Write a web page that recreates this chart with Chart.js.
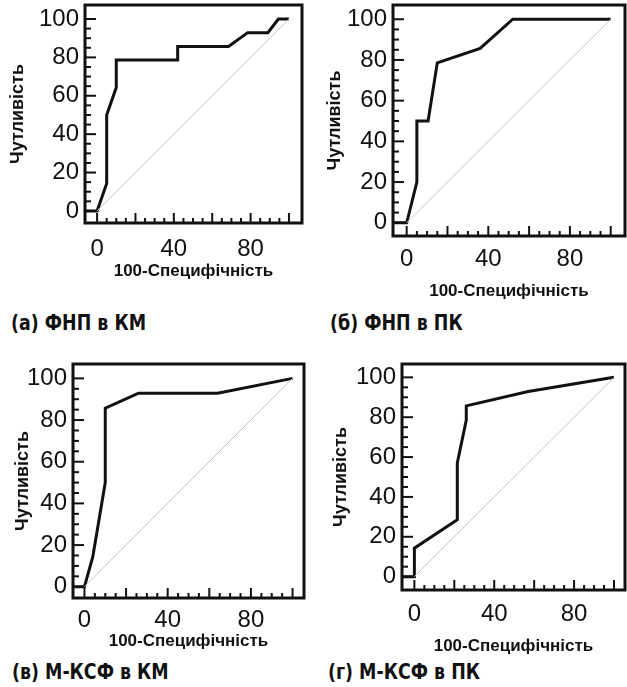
<!DOCTYPE html>
<html>
<head>
<meta charset="utf-8">
<script src="https://cdn.jsdelivr.net/npm/chart.js@4.4.1/dist/chart.umd.min.js"></script>
<style>
  html, body { margin: 0; padding: 0; background: #fff; }
  #wrap { position: relative; width: 627px; height: 687px; overflow: hidden; background: #fff; }
  canvas { position: absolute; }
  .cap { position: absolute; font-family: "DejaVu Sans", sans-serif;
         font-weight: bold; font-size: 21px; color: #111; white-space: nowrap; line-height: 1;
         transform: scaleX(0.83); transform-origin: left top; }
</style>
</head>
<body>
<div id="wrap">
  <canvas id="ca" width="310" height="292" style="left:0;top:0"></canvas>
  <canvas id="cb" width="317" height="305" style="left:310px;top:0"></canvas>
  <canvas id="cc" width="310" height="310" style="left:0;top:350px"></canvas>
  <canvas id="cd" width="317" height="310" style="left:310px;top:350px"></canvas>
  <div class="cap" style="left:11px;top:313px">(а) ФНП в КМ</div>
  <div class="cap" style="left:330px;top:313px">(б) ФНП в ПК</div>
  <div class="cap" style="left:12px;top:662px">(в) М-КСФ в КМ</div>
  <div class="cap" style="left:328px;top:662px">(г) М-КСФ в ПК</div>
</div>
<script>
// ---- data ----
const xTickLabels = [0, 40, 80];
const yTickLabels = [0, 20, 40, 60, 80, 100];
const xTitle = '100-Специфічність';
const yTitle = 'Чутливість';
const diagX = [0, 100];
const diagY = [0, 100];

// (а) ФНП в КМ
const rocA_x = [-6.3, 0, 5, 5, 10, 10, 42, 42, 68.5, 78.5, 89, 94.5, 100];
const rocA_y = [0, 0, 14.3, 50, 64.3, 78.6, 78.6, 85.7, 85.7, 92.9, 92.9, 100, 100];
// (б) ФНП в ПК
const rocB_x = [-6.7, 0, 5, 5, 10.5, 15, 36, 52, 100];
const rocB_y = [0, 0, 20, 50, 50, 78.6, 85.7, 100, 100];
// (в) М-КСФ в КМ
const rocC_x = [-5.5, 0, 4, 10, 10, 26, 64, 100];
const rocC_y = [0, 0, 14.3, 50, 85.7, 92.9, 92.9, 100];
// (г) М-КСФ в ПК
const rocD_x = [-6.2, 0, 0, 21.5, 21.5, 26, 26, 57, 100];
const rocD_y = [0, 0, 14.3, 28.6, 57.1, 78.6, 85.7, 92.9, 100];

const zip = (xs, ys) => xs.map((x, i) => ({ x: x, y: ys[i] }));

// box + inward ticks drawn from the library's scales
const frame = {
  id: 'frame',
  afterDatasetsDraw(chart) {
    const { ctx, chartArea: a, scales } = chart;
    const xs = scales.x, ys = scales.y;
    ctx.save();
    ctx.strokeStyle = '#111';
    ctx.lineCap = 'butt';
    ctx.lineWidth = 2;
    for (let v = 0; v <= 100; v += 5) {
      const major = v % 20 === 0;
      const px = xs.getPixelForValue(v);
      ctx.beginPath();
      ctx.moveTo(px, a.bottom);
      ctx.lineTo(px, a.bottom - (major ? 10 : 5));
      ctx.stroke();
      const py = ys.getPixelForValue(v);
      ctx.beginPath();
      ctx.moveTo(a.left, py);
      ctx.lineTo(a.left + (major ? 11 : 6), py);
      ctx.stroke();
    }
    ctx.lineWidth = 3;
    ctx.strokeRect(a.left, a.top, a.right - a.left, a.bottom - a.top);
    ctx.restore();
  }
};

function makeChart(id, rx, ry, cfg) {
  const tickFont = { family: '"Liberation Sans", Arial, sans-serif', size: 24 };
  const xTitleFont = { family: '"Liberation Sans", Arial, sans-serif', size: 17, weight: 'bold' };
  const yTitleFont = { family: '"Liberation Sans", Arial, sans-serif', size: 18, weight: 'bold' };
  return new Chart(document.getElementById(id), {
    type: 'scatter',
    data: {
      datasets: [
        { data: zip(diagX, diagY), showLine: true, borderColor: '#c8c8c8', borderWidth: 1,
          pointRadius: 0, tension: 0 },
        { data: zip(rx, ry), showLine: true, borderColor: '#111', borderWidth: 3,
          pointRadius: 0, tension: 0, borderJoinStyle: 'miter' }
      ]
    },
    options: {
      responsive: false,
      animation: false,
      devicePixelRatio: 1,
      layout: { padding: { top: cfg.padTop, right: cfg.padRight, left: 0, bottom: 0 } },
      plugins: { legend: { display: false }, tooltip: { enabled: false } },
      scales: {
        x: {
          type: 'linear', min: cfg.xmin, max: cfg.xmax,
          grid: { display: false, drawTicks: false },
          border: { display: false },
          ticks: { font: tickFont, color: '#111', padding: cfg.xTickPad, maxRotation: 0 },
          afterBuildTicks: s => { s.ticks = xTickLabels.map(v => ({ value: v })); },
          afterFit: s => { s.height = cfg.xH; s.paddingLeft = 0; s.paddingRight = 0; s.paddingTop = 0; s.paddingBottom = 0; },
          title: { display: true, text: xTitle, font: xTitleFont, color: '#111',
                   padding: { top: 0, bottom: cfg.xTitlePad } }
        },
        y: {
          type: 'linear', min: cfg.ymin, max: cfg.ymax,
          grid: { display: false, drawTicks: false },
          border: { display: false },
          ticks: { font: tickFont, color: '#111', padding: 6 },
          afterBuildTicks: s => { s.ticks = yTickLabels.map(v => ({ value: v })); },
          afterFit: s => { s.width = cfg.yW; s.paddingLeft = 0; s.paddingRight = 0; s.paddingTop = 0; s.paddingBottom = 0; },
          title: { display: true, text: yTitle, font: yTitleFont, color: '#111',
                   padding: { top: cfg.yTitlePad, bottom: 0 } }
        }
      }
    },
    plugins: [frame]
  });
}

makeChart('ca', rocA_x, rocA_y, { xmin: -6.3, xmax: 106.8, ymin: -6.3, ymax: 107.3,
  padTop: 5, padRight: 8, yW: 85, xH: 292 - 223, xTickPad: 12, xTitlePad: 10, yTitlePad: 7 });
makeChart('cb', rocB_x, rocB_y, { xmin: -6.7, xmax: 107, ymin: -6.5, ymax: 107,
  padTop: 5, padRight: 2, yW: 83, xH: 305 - 236, xTickPad: 9, xTitlePad: 3, yTitlePad: 14 });
makeChart('cc', rocC_x, rocC_y, { xmin: -5.5, xmax: 105.5, ymin: -5.4, ymax: 106.9,
  padTop: 14, padRight: 6, yW: 73, xH: 310 - 248, xTickPad: 8, xTitlePad: 8, yTitlePad: 12 });
makeChart('cd', rocD_x, rocD_y, { xmin: -6.2, xmax: 105.5, ymin: -6.7, ymax: 106.7,
  padTop: 14, padRight: 2, yW: 92, xH: 310 - 240, xTickPad: 10, xTitlePad: 3, yTitlePad: 20 });
</script>
</body>
</html>
